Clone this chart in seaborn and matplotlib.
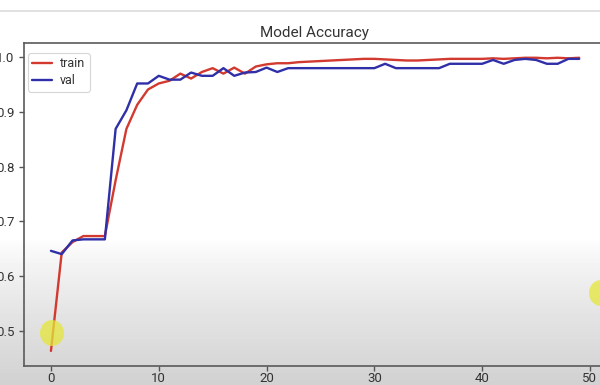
import numpy as np
import pandas as pd
import matplotlib
matplotlib.use("Agg")
import matplotlib.pyplot as plt
import seaborn as sns
from matplotlib import font_manager
from matplotlib.patches import Ellipse
from matplotlib.lines import Line2D

# ---- data ----
epochs = list(range(50))
train_acc = [0.463, 0.643, 0.662, 0.673, 0.673, 0.673, 0.775, 0.869, 0.913, 0.941,
             0.952, 0.957, 0.970, 0.961, 0.973, 0.980, 0.970, 0.981, 0.970, 0.983,
             0.987, 0.989, 0.989, 0.991, 0.992, 0.993, 0.994, 0.995, 0.996, 0.997,
             0.997, 0.996, 0.995, 0.994, 0.994, 0.995, 0.996, 0.997, 0.997, 0.997,
             0.997, 0.998, 0.997, 0.998, 0.999, 0.999, 0.998, 0.999, 0.998, 0.999]
val_acc = [0.646, 0.640, 0.665, 0.667, 0.667, 0.667, 0.869, 0.903, 0.952, 0.952,
           0.966, 0.959, 0.959, 0.972, 0.966, 0.966, 0.980, 0.966, 0.972, 0.973,
           0.981, 0.973, 0.980, 0.980, 0.980, 0.980, 0.980, 0.980, 0.980, 0.980,
           0.980, 0.988, 0.980, 0.980, 0.980, 0.980, 0.980, 0.988, 0.988, 0.988,
           0.988, 0.995, 0.988, 0.995, 0.997, 0.995, 0.988, 0.988, 0.997, 0.997]
series_names = ["train", "val"]
x_ticks = [0, 10, 20, 30, 40, 50]
y_ticks = [0.5, 0.6, 0.7, 0.8, 0.9, 1.0]
title = "Model Accuracy"

df = pd.DataFrame({
    "epoch": epochs * 2,
    "accuracy": train_acc + val_acc,
    "series": [series_names[0]] * len(epochs) + [series_names[1]] * len(epochs),
})

sns.set_style("white")
names = {f.name for f in font_manager.fontManager.ttflist}
font = "DejaVu Sans"
for cand in ["Liberation Sans Narrow", "Roboto", "Lato"]:
    if cand in names:
        font = cand
        break
plt.rcParams["font.family"] = [font, "DejaVu Sans"]

W, H = 600, 385
fig = plt.figure(figsize=(6.0, 3.85), dpi=100)
fig.patch.set_facecolor("white")

# background gradient (screenshot shading)
bg = fig.add_axes([0, 0, 1, 1], zorder=-2)
ys = np.arange(H)
t = np.clip((ys - 238) / (H - 238), 0, 1)
g = 1.0 - 0.18 * t ** 0.8
img = np.repeat(g[:, None], 10, axis=1)
bg.imshow(img, cmap="gray", vmin=0, vmax=1, aspect="auto", extent=[0, 1, 0, 1],
          origin="upper")
bg.set_axis_off()
fig.add_artist(Line2D([0, 1], [1 - 11 / H, 1 - 11 / H], transform=fig.transFigure,
                      color="#dcdcdc", lw=1.2))

left, right, top, bottom = 24, 605.6, 43, 365.7
ax = fig.add_axes([left / W, (H - bottom) / H, (right - left) / W, (bottom - top) / H])
ax.set_facecolor("none")

sns.lineplot(data=df, x="epoch", y="accuracy", hue="series",
             palette={"train": "#d23a30", "val": "#2f2fa8"}, linewidth=1.7, ax=ax)

ax.set_xlim(-2.5, 51.45)
ax.set_ylim(0.436, 1.026)
ax.set_xticks(x_ticks)
ax.set_xticklabels([str(v) for v in x_ticks])
ax.set_yticks(y_ticks)
ax.set_yticklabels([f"{v:.1f}" for v in y_ticks])
ax.set_xlabel("")
ax.set_ylabel("")
ax.tick_params(axis="both", which="major", length=3.5, width=1, color="#555555",
               labelsize=9.5, labelcolor="#333333", direction="out")
ax.tick_params(axis="y", pad=3.5)
ax.tick_params(axis="x", pad=1.2)
ax.tick_params(bottom=True, left=True)
for s in ax.spines.values():
    s.set_color("#5a5a5a")
    s.set_linewidth(1.2)

ax.set_title(title, fontsize=11, color="#333333", pad=4)

leg = ax.legend(loc="upper left", bbox_to_anchor=(0.007, 0.969), borderaxespad=0,
                fontsize=9, handlelength=1.6, handletextpad=0.6, labelspacing=0.3,
                frameon=True, fancybox=True, borderpad=0.35)
leg.get_frame().set_edgecolor("#cccccc")
leg.get_frame().set_linewidth(0.8)
for txt in leg.get_texts():
    txt.set_color("#333333")

# yellow cursor highlights from the screenshot
fig.add_artist(Ellipse((52 / W, 1 - 333 / H), 24 / W, 26 / H, transform=fig.transFigure,
                       facecolor="#e6e63a", edgecolor="none", alpha=0.75, zorder=5))
fig.add_artist(Ellipse((601 / W, 1 - 293 / H), 24 / W, 26 / H, transform=fig.transFigure,
                       facecolor="#e6e63a", edgecolor="none", alpha=0.75, zorder=5))

fig.savefig("out.png", dpi=100)
